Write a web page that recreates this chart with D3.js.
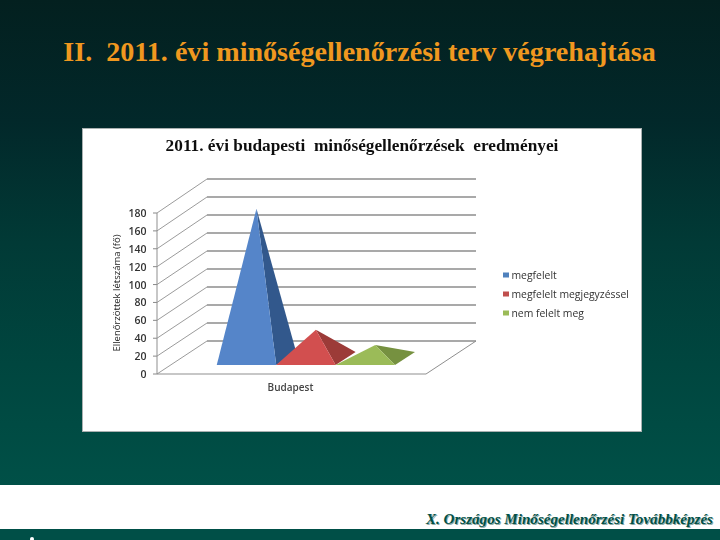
<!DOCTYPE html>
<html lang="hu"><head><meta charset="utf-8">
<script src="https://cdn.jsdelivr.net/npm/d3@7"></script>
<style>html,body{margin:0;padding:0;background:#00302c}svg{display:block}</style>
</head><body><svg id="c" width="720" height="540"></svg>
<script>
const slideTitle = "II.  2011. évi minőségellenőrzési terv végrehajtása";
const chartTitle = "2011. évi budapesti  minőségellenőrzések  eredményei";
const footerText = "X. Országos Minőségellenőrzési Továbbképzés";
const yAxisTitle = "Ellenőrzöttek létszáma (fő)";
const categories = ["Budapest"];
const seriesNames = ["megfelelt", "megfelelt megjegyzéssel", "nem felelt meg"];
const seriesValues = [167, 32, 15];
const seriesLight = ["#5485c9", "#d25050", "#9bbb59"];
const seriesDark = ["#33598c", "#9c3a38", "#769140"];
const legendColors = ["#4f81bd", "#c0504d", "#9bbb59"];
const yTicks = [0, 20, 40, 60, 80, 100, 120, 140, 160, 180];

const svg = d3.select("#c");
const defs = svg.append("defs");
const grad = defs.append("linearGradient").attr("id", "bg").attr("x1", 0).attr("x2", 0).attr("y1", 0).attr("y2", 1);
[[0, "#03201f"], [0.25, "#02282a"], [0.5, "#013a36"], [0.75, "#00463f"], [1, "#005047"]]
  .forEach(([o, c]) => grad.append("stop").attr("offset", o).attr("stop-color", c));
defs.append("filter").attr("id", "soft").append("feGaussianBlur").attr("stdDeviation", 0.35);

svg.append("rect").attr("width", 720).attr("height", 485).attr("fill", "url(#bg)");
svg.append("rect").attr("y", 485).attr("width", 720).attr("height", 44).attr("fill", "#fff");
svg.append("rect").attr("y", 529).attr("width", 720).attr("height", 11).attr("fill", "#004f47");
svg.append("circle").attr("cx", 32).attr("cy", 539).attr("r", 2).attr("fill", "#fff");

svg.append("text").attr("x", 359.5).attr("y", 61).attr("text-anchor", "middle")
  .attr("font-family", "Liberation Serif").attr("font-weight", "bold").attr("font-size", 28.1).attr("fill", "#f0981f")
  .style("white-space", "pre").text(slideTitle);

const foot = svg.append("g").attr("font-family", "Liberation Serif").attr("font-size", 15.1)
  .attr("font-style", "italic").attr("font-weight", "bold").attr("text-anchor", "end");
foot.append("text").attr("x", 714).attr("y", 525).attr("fill", "#8fa9a5").text(footerText);
foot.append("text").attr("x", 713).attr("y", 524).attr("fill", "#005047").text(footerText);

const panel = svg.append("g").attr("filter", "url(#soft)");
panel.append("rect").attr("x", 82.5).attr("y", 128.5).attr("width", 559).attr("height", 303)
  .attr("fill", "#fff").attr("stroke", "#a9b0b0");
panel.append("text").attr("x", 362).attr("y", 151).attr("text-anchor", "middle")
  .attr("font-family", "Liberation Serif").attr("font-weight", "bold").attr("font-size", 17.3)
  .attr("fill", "#111").style("white-space", "pre").text(chartTitle);

// projection: value axis on the front wall, depth shifts toward the back wall
const y = d3.scaleLinear().domain([0, 180]).range([374, 213]);
const depthX = d3.scaleLinear().domain([0, 1]).range([0, 50]);
const depthY = d3.scaleLinear().domain([0, 1]).range([0, -33]);
const floorX = d3.scaleLinear().domain([0, 1]).range([157, 426]);
const pt = (fx, v, d) => [floorX(fx) + depthX(d), y(v) + depthY(d) - d * v / 180];
const line = d3.line();

// side wall and back wall gridlines
yTicks.forEach(t => {
  panel.append("path").attr("d", line([pt(0, t, 0), pt(0, t, 1)])).attr("fill", "none").attr("stroke", "#909090").attr("stroke-width", 0.9);
  panel.append("path").attr("d", line([pt(0, t, 1), pt(1, t, 1)])).attr("fill", "none").attr("stroke", "#8c8c8c").attr("stroke-width", 1.5);
  panel.append("path").attr("d", line([pt(0, t, 0), [pt(0, t, 0)[0] - 4, pt(0, t, 0)[1]]])).attr("stroke", "#888");
});
panel.append("path").attr("d", line([pt(0, 0, 0), pt(0, 180, 0)])).attr("stroke", "#8f8f8f");
panel.append("path").attr("d", line([pt(0, 0, 0), pt(1, 0, 0), pt(1, 0, 1)])).attr("fill", "none").attr("stroke", "#8f8f8f");

// pyramids
const band = d3.scaleBand().domain(seriesNames).range([0.172, 0.8346]);
const dFront = 0.27, dBack = 0.67;
seriesNames.forEach((s, i) => {
  const a = band(s), b = a + band.bandwidth();
  const base = [pt(a, 0, dFront), pt(b, 0, dFront), pt(b, 0, dBack)];
  const apex = pt((a + b) / 2, seriesValues[i], (dFront + dBack) / 2);
  panel.append("path").attr("d", line([base[1], base[2], apex]) + "Z").attr("fill", seriesDark[i]);
  panel.append("path").attr("d", line([base[0], base[1], apex]) + "Z").attr("fill", seriesLight[i]);
});

// axis labels
panel.append("g").selectAll("text").data(yTicks).join("text")
  .attr("x", 146.5).attr("y", d => y(d) + 4).attr("text-anchor", "end")
  .attr("font-family", "Open Sans").attr("font-weight", 600).attr("font-size", 10.5).attr("fill", "#333").text(d => d);
panel.append("text").attr("transform", "translate(120,293) rotate(-90)").attr("text-anchor", "middle")
  .attr("font-family", "Open Sans").attr("font-size", 9.5).attr("fill", "#222").text(yAxisTitle);
panel.append("text").attr("x", 290.5).attr("y", 391).attr("text-anchor", "middle")
  .attr("font-family", "Open Sans").attr("font-weight", 600).attr("font-size", 10).attr("fill", "#444").text(categories[0]);

// legend
const legendY = d3.scalePoint().domain(seriesNames).range([275, 313]);
const lg = panel.append("g").selectAll("g").data(seriesNames).join("g")
  .attr("transform", d => `translate(503,${legendY(d)})`);
lg.append("rect").attr("y", -2.5).attr("width", 6).attr("height", 5).attr("fill", (d, i) => legendColors[i]);
lg.append("text").attr("x", 8.5).attr("y", 3.5).attr("font-family", "Open Sans").attr("font-size", 10.4).attr("fill", "#333").text(d => d);
</script></body></html>
